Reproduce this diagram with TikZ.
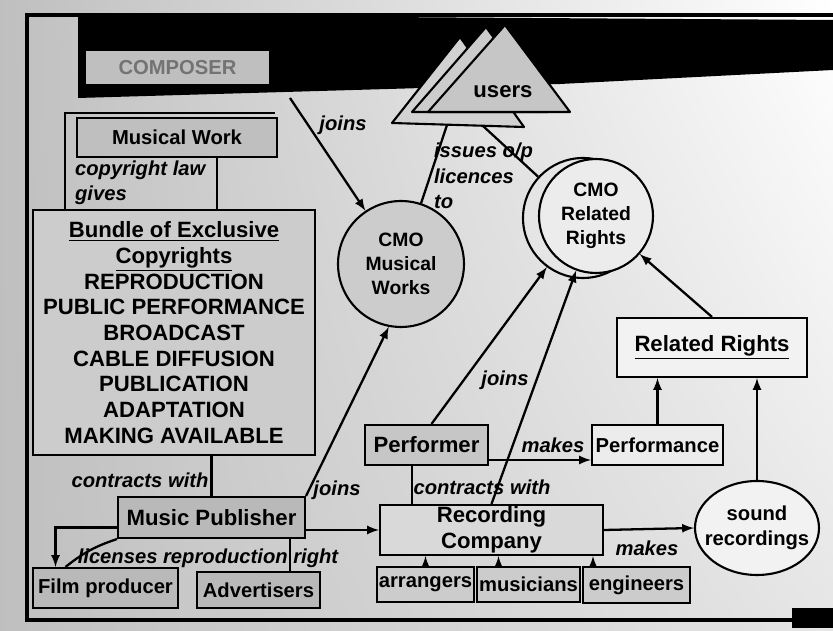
\documentclass[tikz,border=0pt]{standalone}
\usepackage{fontspec}
\setmainfont{Liberation Sans}
\usetikzlibrary{shapes.geometric,shadings}

\tikzset{
  box/.style={draw, line width=1.2pt, fill=gray!45, inner sep=1pt, align=center,
    font=\bfseries\fontsize{11.5}{14}\selectfont},
  bigtext/.style={font=\bfseries\fontsize{12.6}{14.6}\selectfont},
  lbl/.style={font=\bfseries\itshape\fontsize{11.5}{14}\selectfont, inner sep=1pt},
  cmo/.style={draw, circle, line width=1.2pt, align=center, inner sep=0pt,
    font=\bfseries\fontsize{11}{13.5}\selectfont},
  link/.style={line width=1.3pt},
  tri/.style={draw, line width=1.2pt, line join=round}
}

\begin{document}
\begin{tikzpicture}[x=0.02cm, y=-0.02cm]

\useasboundingbox (0,0) rectangle (833,631);
\shade[upper left=gray!50, lower left=gray!50, upper right=white, lower right=gray!20]
  (0,0) rectangle (833,631);

% frame and top band
\draw[line width=2.5pt] (833,15) -- (27,15) -- (27,620) -- (800,620);
\fill[black] (78,15) -- (833,20) -- (833,70) -- (560,84) -- (78,98) -- cycle;
\fill[black] (792,608) rectangle (833,628);
\draw[line width=1.2pt] (65,210) -- (65,113) -- (275,113);

% users
\filldraw[tri, fill=gray!35] (460,37) -- (392,123) -- (524,127) -- cycle;
\filldraw[tri, fill=gray!40] (486,27) -- (412,112) -- (548,112) -- cycle;
\filldraw[tri, fill=gray!45] (505,25) -- (428,112) -- (570,112) -- cycle;
\node[bigtext] (users) at (503,92) {users};
\coordinate (usersL) at (447,125);
\coordinate (usersR) at (483,126);

% composer side
\node[box, fill=gray!50, text=black!55, minimum width=3.7cm, minimum height=0.7cm] (composer) at (177.5,67.5) {COMPOSER};
\coordinate (band) at (290,98);
\node[box, fill=gray!50, minimum width=4cm, minimum height=0.78cm] (musicalwork) at (177,137.5) {Musical Work};
\node[lbl, align=left, anchor=west] (copylaw) at (73,183) {copyright law\\gives};

\node[box, fill=gray!40, minimum width=5.64cm, minimum height=4.9cm, bigtext] (bundle) at (174,332.5)
  {\underline{Bundle of Exclusive}\\\underline{Copyrights}\\REPRODUCTION\\PUBLIC PERFORMANCE\\BROADCAST\\CABLE DIFFUSION\\PUBLICATION\\ADAPTATION\\MAKING AVAILABLE};

\node[box, fill=gray!55, minimum width=3.74cm, minimum height=0.82cm, bigtext] (musicpub) at (211.5,517.5) {Music Publisher};
\node[box, fill=gray!55, minimum width=2.9cm, minimum height=0.8cm] (film) at (105.5,588) {Film producer};
\node[box, fill=gray!55, minimum width=2.46cm, minimum height=0.72cm] (advert) at (258.5,590) {Advertisers};

% CMOs
\node[cmo, fill=gray!40, minimum size=2.52cm] (cmomw) at (401,264) {CMO\\Musical\\Works};
\node[cmo, fill=gray!20, minimum size=2.4cm] (cmorrb) at (583,218) {};
\node[cmo, fill=gray!15, minimum size=2.28cm] (cmorr) at (596,216) {CMO\\Related\\Rights};

% related rights side
\node[box, fill=white!90!gray, minimum width=3.8cm, minimum height=1.18cm, bigtext] (relrights) at (712,347.5) {\underline{Related Rights}};
\node[box, fill=gray!15, minimum width=2.62cm, minimum height=0.8cm] (performance) at (657.5,445) {Performance};
\node[box, ellipse, fill=white!90!gray, inner xsep=-6pt, inner ysep=4pt, minimum width=2.48cm, minimum height=1.88cm] (sound) at (757,528) {sound\\recordings};

\node[box, fill=gray!45, minimum width=2.46cm, minimum height=0.8cm, bigtext] (performer) at (426.5,445) {Performer};
\node[box, fill=gray!30, minimum width=4.46cm, minimum height=1cm, bigtext] (reccomp) at (491.5,530) {Recording\\Company};
\node[box, fill=gray!40, minimum width=1.9cm, minimum height=0.7cm] (arrangers) at (425.5,584.5) {arrangers};
\node[box, fill=gray!40, minimum width=2.06cm, minimum height=0.7cm] (musicians) at (528.5,584.5) {musicians};
\node[box, fill=gray!40, minimum width=2.14cm, minimum height=0.72cm] (engineers) at (636.5,585) {engineers};

% connectors
\draw[link, ->, >=latex] (band) -- (cmomw);
\node[lbl] (joinsA) at (343,125) {joins};
\draw[link] ([xshift=0.8cm]musicalwork.south) -- ([xshift=0.8cm]musicalwork.south |- bundle.north);
\draw[link] (cmomw) -- (usersL);
\draw[link] (usersR) -- (cmorrb);
\node[lbl, align=left, anchor=north west, font=\bfseries\itshape\fontsize{11.5}{14.5}\selectfont] (issues) at (432,141) {issues o/p\\licences\\to};

\draw[link] (musicpub.north) -- (musicpub.north |- bundle.south);
\node[lbl] (contractsA) at (140,480) {contracts with};
\draw[link, ->, >=latex] (musicpub.north east) -- (cmomw.259);
\node[lbl] (joinsB) at (337,490) {joins};
\draw[link, ->, >=latex] (musicpub.east |- reccomp.west) -- (reccomp.west);
\draw[link, ->, >=latex] ([yshift=-0.2cm]musicpub.west) -| ([xshift=-1cm]film.north);
\draw[link] (musicpub.south west) to[bend right=10] ([xshift=-0.8cm]film.north);
\draw[link] ([xshift=1.57cm]musicpub.south) -- ([xshift=1.57cm]musicpub.south |- advert.north);
\node[lbl] (licenses) at (208,558) {licenses reproduction right};

\draw[link, ->, >=latex] ([xshift=0.1cm]performer.north) -- (cmorrb);
\draw[link, ->, >=latex] (reccomp.north) -- (cmorr);
\node[lbl] (joinsC) at (505,380) {joins};
\draw[link] ([xshift=-0.29cm]performer.south) -- ([xshift=-0.29cm]performer.south |- reccomp.north);
\node[lbl] (contractsB) at (482,487) {contracts with};
\draw[link, ->, >=latex] ([yshift=-0.3cm]performer.east) -- ([yshift=-0.3cm]performance.west);
\node[lbl] (makesA) at (553,445) {makes};

\draw[link, ->, >=latex] (relrights.north) -- (cmorr);
\draw[link, ->, >=latex] (performance.north) -- (relrights.south -| performance.north);
\draw[link, ->, >=latex] (sound.north) -- (sound.north |- relrights.south);
\draw[link, ->, >=latex] (reccomp.east) -- (sound.west);
\node[lbl] (makesB) at (647,548) {makes};

\draw[link, ->, >=latex] (arrangers.north) -- (arrangers.north |- reccomp.south);
\draw[link, ->, >=latex] ([xshift=-0.6cm]musicians.north) -- ([xshift=-0.6cm]musicians.north |- reccomp.south);
\draw[link, ->, >=latex] ([xshift=-0.87cm]engineers.north) -- ([xshift=-0.87cm]engineers.north |- reccomp.south);

\end{tikzpicture}
\end{document}
